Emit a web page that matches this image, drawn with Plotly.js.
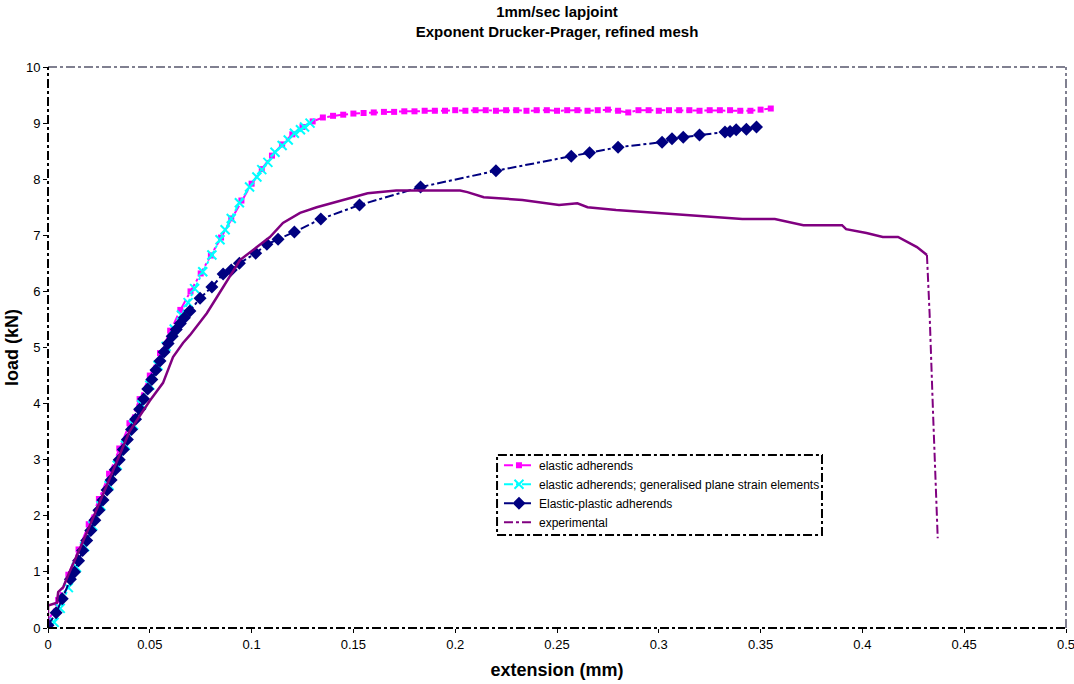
<!DOCTYPE html>
<html>
<head>
<meta charset="utf-8">
<script src="https://cdn.plot.ly/plotly-3.0.1.min.js"></script>
<style>html,body{margin:0;padding:0;background:#fff;}#chart{width:1074px;height:684px;}</style>
</head>
<body>
<div id="chart"></div>
<script>
// ---- data ----
const seriesNames = ["elastic adherends", "elastic adherends; generalised plane strain elements", "Elastic-plastic adherends", "experimental"];

const elasticX = [0, 0.005, 0.01, 0.015, 0.02, 0.025, 0.03, 0.035, 0.04, 0.045, 0.05, 0.055, 0.06, 0.065, 0.07, 0.075, 0.08, 0.085, 0.09, 0.095, 0.1, 0.105, 0.11, 0.115, 0.12, 0.125, 0.13, 0.135, 0.14, 0.145, 0.15, 0.155, 0.16, 0.165, 0.17, 0.175, 0.18, 0.185, 0.19, 0.195, 0.2, 0.205, 0.21, 0.215, 0.22, 0.225, 0.23, 0.235, 0.24, 0.245, 0.25, 0.255, 0.26, 0.265, 0.27, 0.275, 0.28, 0.285, 0.29, 0.295, 0.3, 0.305, 0.31, 0.315, 0.32, 0.325, 0.33, 0.335, 0.34, 0.345, 0.35, 0.355];
const elasticY = [0.1, 0.5, 0.95, 1.4, 1.85, 2.3, 2.75, 3.2, 3.65, 4.08, 4.5, 4.9, 5.3, 5.67, 6.0, 6.32, 6.64, 6.96, 7.3, 7.62, 7.92, 8.18, 8.42, 8.62, 8.8, 8.93, 9.03, 9.1, 9.13, 9.15, 9.17, 9.18, 9.19, 9.2, 9.2, 9.21, 9.21, 9.22, 9.22, 9.22, 9.23, 9.22, 9.23, 9.23, 9.22, 9.23, 9.23, 9.22, 9.23, 9.23, 9.22, 9.23, 9.23, 9.22, 9.23, 9.24, 9.22, 9.19, 9.23, 9.23, 9.22, 9.23, 9.23, 9.23, 9.22, 9.23, 9.23, 9.23, 9.22, 9.22, 9.24, 9.26];

const planeStrainX = [0.003, 0.006, 0.01, 0.014, 0.018, 0.022, 0.026, 0.03, 0.034, 0.038, 0.042, 0.046, 0.05, 0.054, 0.058, 0.062, 0.0655, 0.0688, 0.072, 0.076, 0.0805, 0.0845, 0.087, 0.09, 0.094, 0.099, 0.1026, 0.105, 0.108, 0.1115, 0.115, 0.118, 0.121, 0.124, 0.126, 0.1287];
const planeStrainY = [0.1, 0.35, 0.72, 1.08, 1.45, 1.82, 2.18, 2.54, 2.9, 3.26, 3.62, 3.98, 4.33, 4.68, 5.02, 5.33, 5.58, 5.8, 6.05, 6.35, 6.65, 6.92, 7.1, 7.3, 7.58, 7.86, 8.04, 8.17, 8.3, 8.48, 8.6, 8.7, 8.82, 8.88, 8.93, 9.0];

const plasticX = [0, 0.004, 0.007, 0.011, 0.013, 0.015, 0.017, 0.019, 0.021, 0.023, 0.025, 0.027, 0.029, 0.031, 0.033, 0.035, 0.037, 0.039, 0.041, 0.043, 0.045, 0.047, 0.049, 0.051, 0.053, 0.055, 0.057, 0.059, 0.061, 0.063, 0.065, 0.067, 0.0697, 0.0747, 0.0805, 0.086, 0.09, 0.094, 0.102, 0.1075, 0.113, 0.121, 0.134, 0.153, 0.183, 0.22, 0.257, 0.266, 0.28, 0.3016, 0.3065, 0.312, 0.32, 0.3325, 0.335, 0.338, 0.343, 0.348];
const plasticY = [0.05, 0.27, 0.52, 0.87, 1.0, 1.2, 1.38, 1.56, 1.74, 1.92, 2.1, 2.28, 2.46, 2.64, 2.82, 3.0, 3.18, 3.36, 3.54, 3.72, 3.9, 4.08, 4.26, 4.43, 4.6, 4.76, 4.92, 5.07, 5.2, 5.32, 5.43, 5.53, 5.65, 5.88, 6.08, 6.31, 6.38, 6.5, 6.68, 6.84, 6.93, 7.06, 7.29, 7.54, 7.86, 8.15, 8.41, 8.47, 8.57, 8.66, 8.72, 8.75, 8.79, 8.84, 8.85, 8.88, 8.89, 8.93];

const experimentalX = [0, 0, 0.0044, 0.005, 0.0075, 0.01, 0.02, 0.03, 0.04, 0.05, 0.0565, 0.0614, 0.0663, 0.0697, 0.0747, 0.078, 0.083, 0.088, 0.0943, 0.1026, 0.109, 0.1154, 0.1238, 0.132, 0.145, 0.157, 0.171, 0.18, 0.19, 0.2024, 0.206, 0.214, 0.233, 0.251, 0.26, 0.265, 0.279, 0.305, 0.325, 0.341, 0.357, 0.371, 0.39, 0.392, 0.402, 0.41, 0.4175, 0.422, 0.4268, 0.4317, 0.433, 0.4347, 0.437];
const experimentalY = [0.05, 0.4, 0.45, 0.64, 0.73, 0.95, 1.78, 2.65, 3.5, 4.05, 4.37, 4.83, 5.08, 5.22, 5.46, 5.61, 5.9, 6.2, 6.56, 6.79, 6.97, 7.22, 7.4, 7.5, 7.63, 7.75, 7.8, 7.8, 7.8, 7.8, 7.77, 7.68, 7.63, 7.54, 7.57, 7.5, 7.45, 7.38, 7.33, 7.29, 7.29, 7.18, 7.18, 7.11, 7.04, 6.97, 6.97, 6.88, 6.79, 6.65, 5.61, 3.83, 1.6];
const experimentalBreakIndex = 49; // index where the final drop begins

const xTickVals = [0, 0.05, 0.1, 0.15, 0.2, 0.25, 0.3, 0.35, 0.4, 0.45, 0.5];
const xTickText = ["0", "0.05", "0.1", "0.15", "0.2", "0.25", "0.3", "0.35", "0.4", "0.45", "0.5"];
const yTickVals = [0, 1, 2, 3, 4, 5, 6, 7, 8, 9, 10];

// ---- traces ----
const FONT = "'Liberation Sans', Arial, sans-serif";
const traces = [
  {x: elasticX, y: elasticY, name: seriesNames[0], type: 'scatter', mode: 'lines+markers',
   line: {color: '#ff00ff', width: 2, dash: 'dashdot'},
   marker: {symbol: 'square', size: 6, color: '#ff00ff'}},
  {x: planeStrainX, y: planeStrainY, name: seriesNames[1], type: 'scatter', mode: 'lines+markers',
   line: {color: '#00ffff', width: 2, dash: 'dashdot'},
   marker: {symbol: 'x-thin-open', size: 9, color: '#00ffff', line: {color: '#00ffff', width: 2}}},
  {x: plasticX, y: plasticY, name: seriesNames[2], type: 'scatter', mode: 'lines+markers',
   line: {color: '#000080', width: 2, dash: 'dashdot'},
   marker: {symbol: 'diamond', size: 10, color: '#000080'}},
  {x: experimentalX.slice(0, experimentalBreakIndex + 1), y: experimentalY.slice(0, experimentalBreakIndex + 1),
   name: seriesNames[3], showlegend: false, type: 'scatter', mode: 'lines',
   line: {color: '#800080', width: 2.5}},
  {x: experimentalX.slice(experimentalBreakIndex), y: experimentalY.slice(experimentalBreakIndex),
   name: seriesNames[3], type: 'scatter', mode: 'lines',
   line: {color: '#800080', width: 2, dash: 'dashdot'}}
];

const layout = {
  width: 1074, height: 684,
  margin: {l: 48, r: 8, t: 67, b: 56},
  paper_bgcolor: '#ffffff', plot_bgcolor: '#ffffff',
  font: {family: FONT, size: 13, color: '#000'},
  title: {text: '<b>1mm/sec lapjoint</b><br><b>Exponent Drucker-Prager, refined mesh</b>',
          font: {family: FONT, size: 15, color: '#000'},
          x: 0.5, xref: 'paper', y: 0.9745, yref: 'container', yanchor: 'middle'},
  xaxis: {range: [0, 0.5], tickvals: xTickVals, ticktext: xTickText, ticks: 'outside', ticklen: 4,
          tickcolor: '#000', showgrid: false, zeroline: false, showline: false, ticklabeloverflow: 'allow',
          tickfont: {family: FONT, size: 13, color: '#000'},
          title: {text: '<b>extension (mm)</b>', font: {family: FONT, size: 18, color: '#000'}, standoff: 12}},
  yaxis: {range: [0, 10], tickvals: yTickVals, ticks: 'outside', ticklen: 4,
          tickcolor: '#000', showgrid: false, zeroline: false, showline: false,
          tickfont: {family: FONT, size: 13, color: '#000'},
          title: {text: '<b>load (kN)</b>', font: {family: FONT, size: 18, color: '#000'}, standoff: 2}},
  showlegend: true,
  legend: {x: 0.443, y: 0.316, xanchor: 'left', yanchor: 'top', bgcolor: 'rgba(0,0,0,0)',
           font: {family: FONT, size: 12, color: '#000'}, tracegroupgap: 0, itemwidth: 30},
  shapes: [
    {type: 'line', xref: 'paper', yref: 'paper', x0: 0, x1: 1, y0: 1, y1: 1, line: {color: '#808090', width: 2, dash: 'dashdot'}},
    {type: 'line', xref: 'paper', yref: 'paper', x0: 1, x1: 1, y0: 0, y1: 1, line: {color: '#808090', width: 2, dash: 'dashdot'}},
    {type: 'line', xref: 'paper', yref: 'paper', x0: 0, x1: 0, y0: 0, y1: 1, line: {color: '#000', width: 2, dash: 'dashdot'}},
    {type: 'line', xref: 'paper', yref: 'paper', x0: 0, x1: 1, y0: 0, y1: 0, line: {color: '#000', width: 2, dash: 'dashdot'}},
    {type: 'rect', xref: 'paper', yref: 'paper', x0: 0.4411, x1: 0.7603, y0: 0.1658, y1: 0.3084, line: {color: '#000', width: 2, dash: 'dashdot'}}
  ]
};

Plotly.newPlot('chart', traces, layout, {displayModeBar: false, staticPlot: true});
</script>
</body>
</html>
